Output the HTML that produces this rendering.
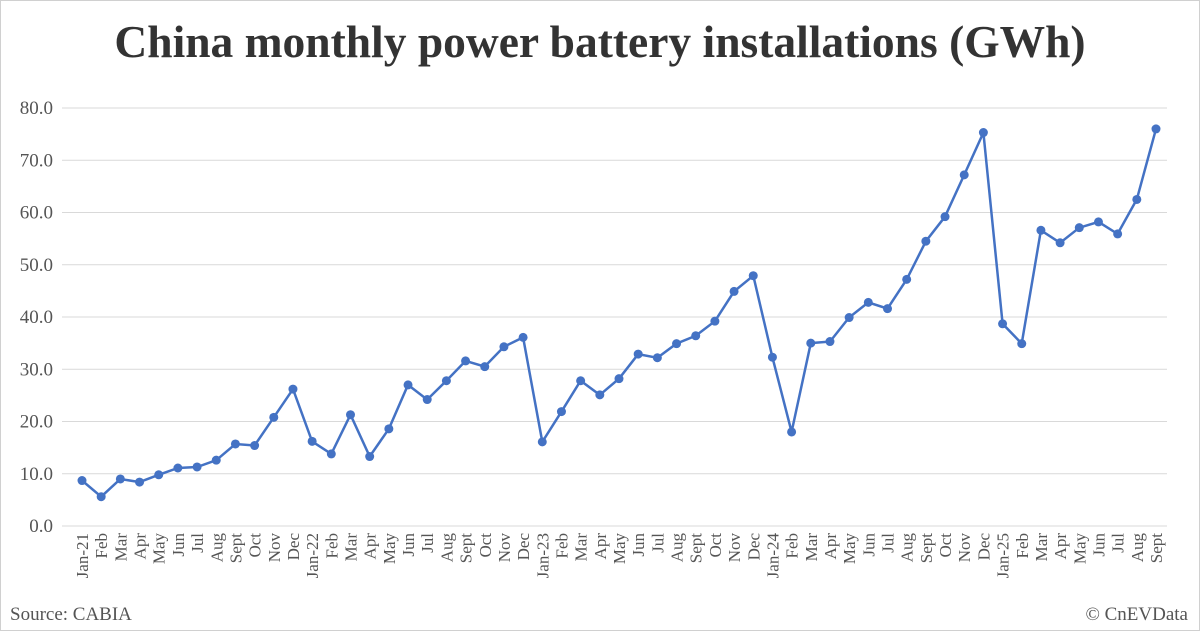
<!DOCTYPE html>
<html><head><meta charset="utf-8"><style>
html,body{margin:0;padding:0;background:#fff;}
svg{display:block;font-family:"Liberation Serif",serif;}
</style></head><body>
<svg id="s" width="1200" height="631" viewBox="0 0 1200 631" xmlns="http://www.w3.org/2000/svg">
<rect x="0.5" y="0.5" width="1199" height="630" fill="#fff" stroke="#d0d0d0"/>
<text x="600" y="57" text-anchor="middle" font-size="45.5" font-weight="bold" fill="#333">China monthly power battery installations (GWh)</text>
<g id="grid"></g>
<g id="ylab" font-size="19" fill="#555" text-anchor="end"></g>
<g id="xlab" font-size="17" fill="#555" text-anchor="end"></g>
<polyline id="line" fill="none" stroke="#4472c4" stroke-width="2.5"/>
<g id="dots" fill="#4472c4"></g>
<text x="10" y="620" font-size="19" fill="#555">Source: CABIA</text>
<text x="1188" y="620" font-size="19" fill="#555" text-anchor="end">© CnEVData</text>
</svg>
<script>
const d=[8.7,5.6,9.0,8.4,9.8,11.1,11.3,12.6,15.7,15.4,20.8,26.2,
16.2,13.8,21.3,13.3,18.6,27.0,24.2,27.8,31.6,30.5,34.3,36.1,
16.1,21.9,27.8,25.1,28.2,32.9,32.2,34.9,36.4,39.2,44.9,47.9,
32.3,18.0,35.0,35.3,39.9,42.8,41.6,47.2,54.5,59.2,67.2,75.3,
38.7,34.9,56.6,54.2,57.1,58.2,55.9,62.5,76.0];
const m=["Jan","Feb","Mar","Apr","May","Jun","Jul","Aug","Sept","Oct","Nov","Dec"];
const ns="http://www.w3.org/2000/svg";
function el(t,a,p,txt){const e=document.createElementNS(ns,t);for(const k in a)e.setAttribute(k,a[k]);if(txt!=null)e.textContent=txt;document.getElementById(p).appendChild(e);return e;}
const y0=526,sc=418/80,x0=82,dx=(1156-82)/56;
for(let v=0;v<=80;v+=10){const y=y0-v*sc;el("line",{x1:62,x2:1167,y1:y,y2:y,stroke:"#d9d9d9","stroke-width":1},"grid");el("text",{x:53,y:y+6},"ylab",v.toFixed(1));}
let pts=[];
d.forEach((v,i)=>{const x=x0+i*dx,y=y0-v*sc;pts.push(x.toFixed(1)+","+y.toFixed(1));el("circle",{cx:x,cy:y,r:4.5},"dots");
let lab=m[i%12];if(i%12==0)lab="Jan-"+(21+i/12);
el("text",{x:0,y:0,transform:`translate(${x+6},533) rotate(-90)`},"xlab",lab);});
document.getElementById("line").setAttribute("points",pts.join(" "));
</script>
</body></html>
